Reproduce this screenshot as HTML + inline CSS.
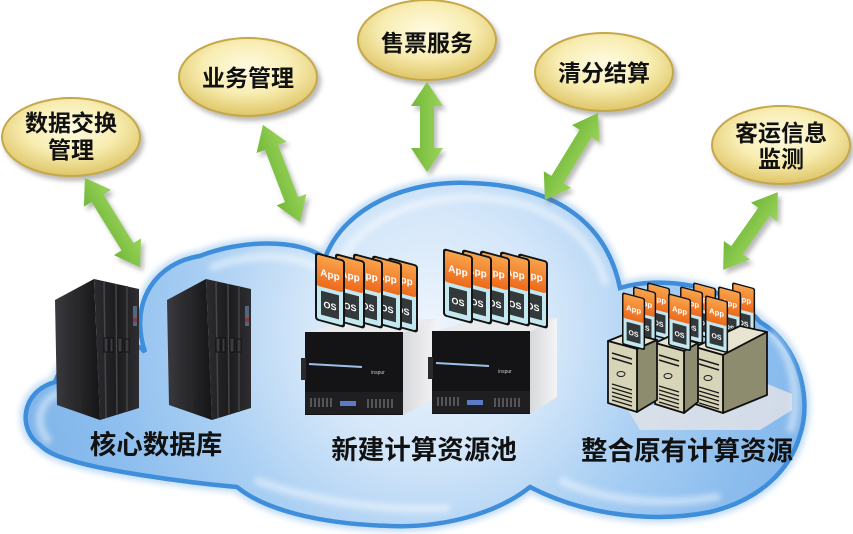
<!DOCTYPE html>
<html><head><meta charset="utf-8"><style>
html,body{margin:0;padding:0;background:#fff;}
svg{display:block;}
.t{font-family:"Liberation Sans","Noto Sans CJK SC","WenQuanYi Zen Hei",sans-serif;font-weight:700;fill:#111;text-anchor:middle;}
.app{font-family:"Liberation Sans",sans-serif;font-weight:700;fill:#fff;font-size:10px;text-anchor:middle;}
.os{font-family:"Liberation Sans",sans-serif;font-weight:700;fill:#fff;font-size:9px;text-anchor:middle;}
</style></head><body>
<svg width="853" height="534" viewBox="0 0 853 534" xmlns="http://www.w3.org/2000/svg">
<defs>
<radialGradient id="cl" cx="430" cy="330" r="420" gradientUnits="userSpaceOnUse">
<stop offset="0" stop-color="#eef5fd"/><stop offset="0.3" stop-color="#d3e6f9"/><stop offset="0.55" stop-color="#a9cff3"/><stop offset="0.8" stop-color="#8cbdee"/><stop offset="1" stop-color="#7fb4e9"/></radialGradient>
<radialGradient id="el" cx="0.5" cy="0.38" r="0.6">
<stop offset="0" stop-color="#fffbe2"/><stop offset="0.55" stop-color="#f8edb2"/><stop offset="1" stop-color="#e0c86c"/></radialGradient>
<linearGradient id="ar" x1="0" y1="0" x2="0" y2="1"><stop offset="0" stop-color="#9ad45a"/><stop offset="1" stop-color="#72b83a"/></linearGradient>
<linearGradient id="org" x1="0" y1="0" x2="0" y2="1"><stop offset="0" stop-color="#f9a24a"/><stop offset="1" stop-color="#ec6a1c"/></linearGradient>
<linearGradient id="mfl" x1="0" y1="0" x2="1" y2="0"><stop offset="0" stop-color="#3a3a3e"/><stop offset="1" stop-color="#151517"/></linearGradient>
<linearGradient id="mff" x1="0" y1="0" x2="1" y2="0"><stop offset="0" stop-color="#2c2c30"/><stop offset="0.5" stop-color="#1c1c1e"/><stop offset="1" stop-color="#2e2e32"/></linearGradient>
<linearGradient id="rs" x1="0" y1="0" x2="1" y2="0"><stop offset="0" stop-color="#d8d9dc"/><stop offset="1" stop-color="#f4f4f6"/></linearGradient>
<filter id="sh" x="-20%" y="-20%" width="150%" height="160%"><feDropShadow dx="3" dy="4" stdDeviation="2.5" flood-color="#666" flood-opacity="0.45"/></filter>
<filter id="bl" x="-10%" y="-10%" width="120%" height="120%"><feGaussianBlur stdDeviation="3"/></filter>
</defs>

<!-- cloud -->
<path d="M40,445 C18,430 20,392 55,382 C70,340 125,330 145,352 C128,300 158,262 200,256 C240,240 298,238 325,258 C345,205 410,180 470,183 C545,185 605,215 620,288 C660,275 730,285 760,322 C800,345 812,400 800,435 C790,470 760,500 710,512 C660,522 590,518 530,487 C495,515 440,528 390,526 C320,524 265,510 237,487 C180,482 100,470 70,460 C52,455 45,450 40,445 Z" fill="none" stroke="#c6def5" stroke-width="12" filter="url(#bl)"/>
<path d="M40,445 C18,430 20,392 55,382 C70,340 125,330 145,352 C128,300 158,262 200,256 C240,240 298,238 325,258 C345,205 410,180 470,183 C545,185 605,215 620,288 C660,275 730,285 760,322 C800,345 812,400 800,435 C790,470 760,500 710,512 C660,522 590,518 530,487 C495,515 440,528 390,526 C320,524 265,510 237,487 C180,482 100,470 70,460 C52,455 45,450 40,445 Z" fill="url(#cl)" stroke="#3e8edb" stroke-width="4.5"/>
<path d="M50,442 C34,428 36,400 62,392 M210,268 C245,254 290,252 318,268 M340,262 C360,222 412,198 470,197 C535,198 590,225 606,285 M770,332 C795,355 800,400 790,432 M560,480 C610,505 680,505 720,496 M255,480 C310,500 380,512 450,508" fill="none" stroke="#ffffff" stroke-opacity="0.45" stroke-width="8" filter="url(#bl)"/>

<!-- ellipses -->
<g filter="url(#sh)" stroke="#c5a84a" stroke-width="2" fill="url(#el)">
<ellipse cx="71" cy="137" rx="69" ry="39"/>
<ellipse cx="248" cy="77" rx="69" ry="39"/>
<ellipse cx="427" cy="40" rx="69" ry="40"/>
<ellipse cx="604" cy="72" rx="69" ry="39"/>
<ellipse cx="781" cy="145" rx="69" ry="39"/>
</g>
<text class="t" x="71" y="131" font-size="23">数据交换</text>
<text class="t" x="71" y="158" font-size="23">管理</text>
<text class="t" x="248" y="86" font-size="23">业务管理</text>
<text class="t" x="427" y="51" font-size="23">售票服务</text>
<text class="t" x="604" y="81" font-size="23">清分结算</text>
<text class="t" x="781" y="141" font-size="23">客运信息</text>
<text class="t" x="781" y="167" font-size="23">监测</text>

<!-- arrows -->
<g fill="url(#ar)" filter="url(#sh)">
<polygon transform="translate(112.5,222.5) rotate(58.3)" points="-52.5,0 -28.5,-16 -28.5,-7 28.5,-7 28.5,-16 52.5,0 28.5,16 28.5,7 -28.5,7 -28.5,16"/>
<polygon transform="translate(281.5,173.5) rotate(69.1)" points="-52,0 -28,-16 -28,-7 28,-7 28,-16 52,0 28,16 28,7 -28,7 -28,16"/>
<polygon transform="translate(427,127) rotate(90)" points="-45,0 -21,-16 -21,-7 21,-7 21,-16 45,0 21,16 21,7 -21,7 -21,16"/>
<polygon transform="translate(571.5,156.5) rotate(121.4)" points="-51,0 -27,-16 -27,-7 27,-7 27,-16 51,0 27,16 27,7 -27,7 -27,16"/>
<polygon transform="translate(750.5,231) rotate(125.2)" points="-47.5,0 -23.5,-16 -23.5,-7 23.5,-7 23.5,-16 47.5,0 23.5,16 23.5,7 -23.5,7 -23.5,16"/>
</g>

<!-- mainframes -->
<g>
<polygon points="55,300 94,279 100,420 57,405" fill="url(#mfl)"/>
<polygon points="94,279 139,289 139,408 100,420" fill="url(#mff)"/>
<g stroke="#45454a" stroke-width="1.5">
<line x1="104" y1="282" x2="106" y2="418"/><line x1="116" y1="284" x2="117" y2="415"/><line x1="127" y1="286" x2="127" y2="412"/>
<line x1="78" y1="290" x2="80" y2="412" stroke="#2a2a2e"/>
</g>
<g fill="#3b3b40" stroke="#0c0c0c" stroke-width="0.8">
<rect x="104" y="338" width="4" height="14"/><rect x="110" y="338" width="3" height="14"/><rect x="118" y="338" width="4" height="14"/><rect x="125" y="339" width="4" height="13"/>
</g>
<rect x="133" y="306" width="4" height="20" fill="#56647e"/>
<rect x="133" y="318" width="4" height="4" fill="#8a3a3a"/>
</g>
<g transform="translate(112,0)">
<polygon points="55,300 94,279 100,420 57,405" fill="url(#mfl)"/>
<polygon points="94,279 139,289 139,408 100,420" fill="url(#mff)"/>
<g stroke="#45454a" stroke-width="1.5">
<line x1="104" y1="282" x2="106" y2="418"/><line x1="116" y1="284" x2="117" y2="415"/><line x1="127" y1="286" x2="127" y2="412"/>
<line x1="78" y1="290" x2="80" y2="412" stroke="#2a2a2e"/>
</g>
<g fill="#3b3b40" stroke="#0c0c0c" stroke-width="0.8">
<rect x="104" y="338" width="4" height="14"/><rect x="110" y="338" width="3" height="14"/><rect x="118" y="338" width="4" height="14"/><rect x="125" y="339" width="4" height="13"/>
</g>
<rect x="133" y="306" width="4" height="20" fill="#56647e"/>
<rect x="133" y="318" width="4" height="4" fill="#8a3a3a"/>
</g>

<!-- rack servers -->
<g>
<polygon points="305,333 345,321 437,319 403,333" fill="#e9eaec"/>
<polygon points="403,333 437,319 437,398 403,415" fill="url(#rs)"/>
<rect x="305" y="332" width="98" height="83" fill="#141416"/>
<rect x="301" y="358" width="5" height="22" fill="#2a2a2c"/>
<line x1="309" y1="364" x2="362" y2="367" stroke="#9cc0e8" stroke-width="2"/>
<text x="378" y="374" font-family="Liberation Sans,sans-serif" font-size="5" fill="#ccc" text-anchor="middle">inspur</text>
<rect x="305" y="392" width="98" height="22" fill="#1f1f22"/>
<g stroke="#8a8a90" stroke-width="1">
<line x1="311" y1="398" x2="311" y2="407"/><line x1="315" y1="398" x2="315" y2="407"/><line x1="319" y1="398" x2="319" y2="407"/><line x1="323" y1="398" x2="323" y2="407"/><line x1="327" y1="398" x2="327" y2="407"/><line x1="331" y1="398" x2="331" y2="407"/>
<line x1="368" y1="399" x2="368" y2="408"/><line x1="372" y1="399" x2="372" y2="408"/><line x1="376" y1="399" x2="376" y2="408"/><line x1="380" y1="399" x2="380" y2="408"/><line x1="384" y1="399" x2="384" y2="408"/><line x1="388" y1="399" x2="388" y2="408"/><line x1="392" y1="399" x2="392" y2="408"/>
</g>
<rect x="340" y="401" width="16" height="5" fill="#5a7cc8"/>
</g>
<g transform="translate(127,-1)">
<polygon points="305,333 345,321 430,319 403,333" fill="#e9eaec"/>
<polygon points="403,333 430,319 430,398 403,415" fill="url(#rs)"/>
<rect x="305" y="332" width="98" height="83" fill="#141416"/>
<rect x="301" y="358" width="5" height="22" fill="#2a2a2c"/>
<line x1="309" y1="364" x2="362" y2="367" stroke="#9cc0e8" stroke-width="2"/>
<text x="378" y="374" font-family="Liberation Sans,sans-serif" font-size="5" fill="#ccc" text-anchor="middle">inspur</text>
<rect x="305" y="392" width="98" height="22" fill="#1f1f22"/>
<g stroke="#8a8a90" stroke-width="1">
<line x1="311" y1="398" x2="311" y2="407"/><line x1="315" y1="398" x2="315" y2="407"/><line x1="319" y1="398" x2="319" y2="407"/><line x1="323" y1="398" x2="323" y2="407"/><line x1="327" y1="398" x2="327" y2="407"/><line x1="331" y1="398" x2="331" y2="407"/>
<line x1="368" y1="399" x2="368" y2="408"/><line x1="372" y1="399" x2="372" y2="408"/><line x1="376" y1="399" x2="376" y2="408"/><line x1="380" y1="399" x2="380" y2="408"/><line x1="384" y1="399" x2="384" y2="408"/><line x1="388" y1="399" x2="388" y2="408"/><line x1="392" y1="399" x2="392" y2="408"/>
</g>
<rect x="340" y="401" width="16" height="5" fill="#5a7cc8"/>
</g>

<!-- card group 1 -->
<g transform="translate(388,257) skewY(15)"><rect width="30" height="68" rx="3" fill="#141414"/><rect x="2" y="2" width="26" height="64" rx="2" fill="#c3e8f0"/><rect x="2" y="2" width="26" height="31" rx="2" fill="url(#org)"/><text class="app" x="15" y="22">App</text><rect x="6" y="37" width="18" height="24" fill="#33383b"/><text class="os" x="15" y="53">OS</text></g>
<g transform="translate(372,255) skewY(15)"><rect width="30" height="68" rx="3" fill="#141414"/><rect x="2" y="2" width="26" height="64" rx="2" fill="#c3e8f0"/><rect x="2" y="2" width="26" height="31" rx="2" fill="url(#org)"/><text class="app" x="15" y="22">App</text><rect x="6" y="37" width="18" height="24" fill="#33383b"/><text class="os" x="15" y="53">OS</text></g>
<g transform="translate(353,253) skewY(15)"><rect width="30" height="68" rx="3" fill="#141414"/><rect x="2" y="2" width="26" height="64" rx="2" fill="#c3e8f0"/><rect x="2" y="2" width="26" height="31" rx="2" fill="url(#org)"/><text class="app" x="15" y="22">App</text><rect x="6" y="37" width="18" height="24" fill="#33383b"/><text class="os" x="15" y="53">OS</text></g>
<g transform="translate(335,253) skewY(15)"><rect width="30" height="68" rx="3" fill="#141414"/><rect x="2" y="2" width="26" height="64" rx="2" fill="#c3e8f0"/><rect x="2" y="2" width="26" height="31" rx="2" fill="url(#org)"/><text class="app" x="15" y="22">App</text><rect x="6" y="37" width="18" height="24" fill="#33383b"/><text class="os" x="15" y="53">OS</text></g>
<g transform="translate(315,252) skewY(15)"><rect width="30" height="68" rx="3" fill="#141414"/><rect x="2" y="2" width="26" height="64" rx="2" fill="#c3e8f0"/><rect x="2" y="2" width="26" height="31" rx="2" fill="url(#org)"/><text class="app" x="15" y="22">App</text><rect x="6" y="37" width="18" height="24" fill="#33383b"/><text class="os" x="15" y="53">OS</text></g>

<!-- card group 2 -->
<g transform="translate(518,253) skewY(15)"><rect width="30" height="68" rx="3" fill="#141414"/><rect x="2" y="2" width="26" height="64" rx="2" fill="#c3e8f0"/><rect x="2" y="2" width="26" height="31" rx="2" fill="url(#org)"/><text class="app" x="15" y="22">App</text><rect x="6" y="37" width="18" height="24" fill="#33383b"/><text class="os" x="15" y="53">OS</text></g>
<g transform="translate(500,251) skewY(15)"><rect width="30" height="68" rx="3" fill="#141414"/><rect x="2" y="2" width="26" height="64" rx="2" fill="#c3e8f0"/><rect x="2" y="2" width="26" height="31" rx="2" fill="url(#org)"/><text class="app" x="15" y="22">App</text><rect x="6" y="37" width="18" height="24" fill="#33383b"/><text class="os" x="15" y="53">OS</text></g>
<g transform="translate(480,250) skewY(15)"><rect width="30" height="68" rx="3" fill="#141414"/><rect x="2" y="2" width="26" height="64" rx="2" fill="#c3e8f0"/><rect x="2" y="2" width="26" height="31" rx="2" fill="url(#org)"/><text class="app" x="15" y="22">App</text><rect x="6" y="37" width="18" height="24" fill="#33383b"/><text class="os" x="15" y="53">OS</text></g>
<g transform="translate(462,249) skewY(15)"><rect width="30" height="68" rx="3" fill="#141414"/><rect x="2" y="2" width="26" height="64" rx="2" fill="#c3e8f0"/><rect x="2" y="2" width="26" height="31" rx="2" fill="url(#org)"/><text class="app" x="15" y="22">App</text><rect x="6" y="37" width="18" height="24" fill="#33383b"/><text class="os" x="15" y="53">OS</text></g>
<g transform="translate(443,248) skewY(15)"><rect width="30" height="68" rx="3" fill="#141414"/><rect x="2" y="2" width="26" height="64" rx="2" fill="#c3e8f0"/><rect x="2" y="2" width="26" height="31" rx="2" fill="url(#org)"/><text class="app" x="15" y="22">App</text><rect x="6" y="37" width="18" height="24" fill="#33383b"/><text class="os" x="15" y="53">OS</text></g>

<!-- floor shadow -->
<polygon points="628,410 765,383 792,394 792,410 760,430 640,430" fill="#dfe2e6" opacity="0.85"/>

<!-- right group cards -->
<g transform="translate(732,282) skewY(15) scale(0.77)"><rect width="30" height="68" rx="3" fill="#141414"/><rect x="2" y="2" width="26" height="64" rx="2" fill="#c3e8f0"/><rect x="2" y="2" width="26" height="31" rx="2" fill="url(#org)"/><text class="app" x="15" y="22">App</text><rect x="6" y="37" width="18" height="24" fill="#33383b"/><text class="os" x="15" y="53">OS</text></g>
<g transform="translate(693,282) skewY(15) scale(0.77)"><rect width="30" height="68" rx="3" fill="#141414"/><rect x="2" y="2" width="26" height="64" rx="2" fill="#c3e8f0"/><rect x="2" y="2" width="26" height="31" rx="2" fill="url(#org)"/><text class="app" x="15" y="22">App</text><rect x="6" y="37" width="18" height="24" fill="#33383b"/><text class="os" x="15" y="53">OS</text></g>
<g transform="translate(647,282) skewY(15) scale(0.77)"><rect width="30" height="68" rx="3" fill="#141414"/><rect x="2" y="2" width="26" height="64" rx="2" fill="#c3e8f0"/><rect x="2" y="2" width="26" height="31" rx="2" fill="url(#org)"/><text class="app" x="15" y="22">App</text><rect x="6" y="37" width="18" height="24" fill="#33383b"/><text class="os" x="15" y="53">OS</text></g>
<g transform="translate(718,286) skewY(15) scale(0.77)"><rect width="30" height="68" rx="3" fill="#141414"/><rect x="2" y="2" width="26" height="64" rx="2" fill="#c3e8f0"/><rect x="2" y="2" width="26" height="31" rx="2" fill="url(#org)"/><text class="app" x="15" y="22">App</text><rect x="6" y="37" width="18" height="24" fill="#33383b"/><text class="os" x="15" y="53">OS</text></g>
<g transform="translate(680,286) skewY(15) scale(0.77)"><rect width="30" height="68" rx="3" fill="#141414"/><rect x="2" y="2" width="26" height="64" rx="2" fill="#c3e8f0"/><rect x="2" y="2" width="26" height="31" rx="2" fill="url(#org)"/><text class="app" x="15" y="22">App</text><rect x="6" y="37" width="18" height="24" fill="#33383b"/><text class="os" x="15" y="53">OS</text></g>
<g transform="translate(633,286) skewY(15) scale(0.77)"><rect width="30" height="68" rx="3" fill="#141414"/><rect x="2" y="2" width="26" height="64" rx="2" fill="#c3e8f0"/><rect x="2" y="2" width="26" height="31" rx="2" fill="url(#org)"/><text class="app" x="15" y="22">App</text><rect x="6" y="37" width="18" height="24" fill="#33383b"/><text class="os" x="15" y="53">OS</text></g>

<!-- towers -->
<g stroke="#111" stroke-width="1.8" stroke-linejoin="round">
<polygon points="695,347 740,326 767,332 723,355" fill="#e7e5d1"/>
<polygon points="723,355 767,332 767,395 723,413" fill="#8e8c6f"/>
<polygon points="695,347 723,355 723,413 695,404" fill="#d7d4b8"/>
<polygon points="655,343 670,336 698,343 684,351" fill="#e7e5d1"/>
<polygon points="684,351 698,343 698,402 684,413" fill="#8e8c6f"/>
<polygon points="655,343 684,351 684,413 655,404" fill="#d7d4b8"/>
<polygon points="608,341 628,333 657,340 637,349" fill="#e7e5d1"/>
<polygon points="637,349 657,340 657,400 637,412" fill="#8e8c6f"/>
<polygon points="608,341 637,349 637,412 608,403" fill="#d7d4b8"/>
</g>
<g stroke="#1a1a1a" fill="none">
<path d="M612,353 L632,359 M612,358 L632,364" stroke-width="1.6"/>
<path d="M612,384 L632,390 M612,388 L632,394 M612,392 L632,398 M612,396 L632,402 M612,400 L632,406" stroke-width="1.3"/>
<path d="M659,355 L679,361 M659,360 L679,366" stroke-width="1.6"/>
<path d="M659,386 L679,392 M659,390 L679,396 M659,394 L679,400 M659,398 L679,404 M659,402 L679,408" stroke-width="1.3"/>
<path d="M699,359 L719,365 M699,364 L719,370" stroke-width="1.6"/>
<path d="M699,387 L719,393 M699,391 L719,397 M699,395 L719,401 M699,399 L719,405 M699,403 L719,409" stroke-width="1.3"/>
<ellipse cx="621" cy="374" rx="4" ry="2.5" stroke-width="1"/>
<ellipse cx="668" cy="376" rx="4" ry="2.5" stroke-width="1"/>
<ellipse cx="708" cy="378" rx="4" ry="2.5" stroke-width="1"/>
</g>

<!-- front cards right group -->
<g transform="translate(705,295) skewY(15) scale(0.77)"><rect width="30" height="68" rx="3" fill="#141414"/><rect x="2" y="2" width="26" height="64" rx="2" fill="#c3e8f0"/><rect x="2" y="2" width="26" height="31" rx="2" fill="url(#org)"/><text class="app" x="15" y="22">App</text><rect x="6" y="37" width="18" height="24" fill="#33383b"/><text class="os" x="15" y="53">OS</text></g>
<g transform="translate(668,293) skewY(15) scale(0.77)"><rect width="30" height="68" rx="3" fill="#141414"/><rect x="2" y="2" width="26" height="64" rx="2" fill="#c3e8f0"/><rect x="2" y="2" width="26" height="31" rx="2" fill="url(#org)"/><text class="app" x="15" y="22">App</text><rect x="6" y="37" width="18" height="24" fill="#33383b"/><text class="os" x="15" y="53">OS</text></g>
<g transform="translate(622,292) skewY(15) scale(0.77)"><rect width="30" height="68" rx="3" fill="#141414"/><rect x="2" y="2" width="26" height="64" rx="2" fill="#c3e8f0"/><rect x="2" y="2" width="26" height="31" rx="2" fill="url(#org)"/><text class="app" x="15" y="22">App</text><rect x="6" y="37" width="18" height="24" fill="#33383b"/><text class="os" x="15" y="53">OS</text></g>

<!-- labels -->
<text class="t" x="156" y="454" font-size="26.5">核心数据库</text>
<text class="t" x="424" y="459" font-size="26.5">新建计算资源池</text>
<text class="t" x="687" y="460" font-size="26.5">整合原有计算资源</text>
</svg>
</body></html>
